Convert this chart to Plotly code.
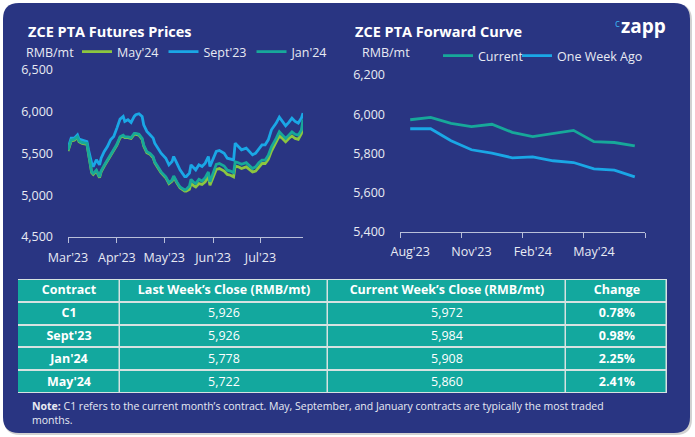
import plotly.graph_objects as go

W, H = 695, 437

# ---------------- data: left chart (ZCE PTA futures prices) ----------------
dates = ["2023-03-01","2023-03-03","2023-03-05","2023-03-07","2023-03-08","2023-03-10","2023-03-13","2023-03-14",
         "2023-03-16","2023-03-17","2023-03-19","2023-03-21","2023-03-22","2023-03-24","2023-03-26","2023-03-28",
         "2023-03-30","2023-04-01","2023-04-03","2023-04-05","2023-04-06","2023-04-08","2023-04-10","2023-04-12",
         "2023-04-13","2023-04-15","2023-04-17","2023-04-18","2023-04-20","2023-04-22","2023-04-24","2023-04-25",
         "2023-04-27","2023-04-29","2023-05-02","2023-05-04","2023-05-06","2023-05-07","2023-05-09","2023-05-11",
         "2023-05-14","2023-05-15","2023-05-17","2023-05-18","2023-05-20","2023-05-21","2023-05-23","2023-05-25",
         "2023-05-27","2023-05-29","2023-05-30","2023-06-01","2023-06-03","2023-06-05","2023-06-08","2023-06-10",
         "2023-06-12","2023-06-14","2023-06-15","2023-06-17","2023-06-19","2023-06-22","2023-06-24","2023-06-26",
         "2023-06-28","2023-06-30","2023-07-02","2023-07-04","2023-07-06","2023-07-08","2023-07-11","2023-07-13",
         "2023-07-15","2023-07-17","2023-07-19","2023-07-21","2023-07-23","2023-07-25","2023-07-27","2023-07-28"]

sept23 = [5564,5684,5684,5724,5672,5664,5644,5544,5384,5344,5424,5364,5444,5524,5584,5664,5704,
          5804,5912,5944,5884,5904,5872,5944,5964,5976,5944,5844,5764,5724,5684,5624,5564,5504,
          5444,5364,5404,5464,5384,5304,5224,5224,5264,5364,5324,5304,5364,5344,5384,5464,5344,
          5424,5524,5536,5504,5444,5432,5424,5624,5584,5544,5564,5524,5484,5504,5552,
          5604,5604,5664,5784,5864,5936,5884,5832,5872,5924,5884,5864,5924,5984]

jan24 = [5540,5660,5670,5700,5650,5630,5620,5500,5280,5260,5300,5220,5290,5360,5420,5480,5540,
         5610,5700,5720,5700,5700,5690,5740,5740,5730,5680,5600,5520,5500,5460,5400,5340,5280,
         5220,5150,5180,5230,5160,5100,5064,5070,5110,5190,5150,5140,5190,5170,5210,5280,5160,
         5260,5370,5380,5350,5300,5290,5270,5400,5390,5370,5390,5360,5320,5340,5390,
         5420,5420,5480,5580,5680,5760,5720,5680,5720,5760,5730,5720,5780,5908]

may24 = [5530,5650,5660,5690,5640,5620,5610,5490,5270,5250,5290,5210,5280,5350,5410,5470,5530,
         5600,5690,5710,5690,5690,5680,5730,5730,5720,5670,5590,5510,5490,5450,5390,5330,5270,
         5210,5140,5170,5220,5150,5090,5050,5050,5070,5140,5110,5100,5140,5130,5160,5230,5120,
         5210,5310,5320,5290,5250,5240,5220,5350,5340,5320,5340,5310,5280,5290,5340,
         5380,5380,5430,5530,5630,5710,5680,5640,5680,5710,5680,5670,5740,5860]

left_yticks = [4500, 5000, 5500, 6000, 6500]

# ---------------- data: right chart (forward curve) ----------------
months = ["Aug'23","Sep'23","Oct'23","Nov'23","Dec'23","Jan'24","Feb'24","Mar'24","Apr'24","May'24","Jun'24","Jul'24"]
current = [5972,5984,5954,5937,5949,5908,5886,5903,5918,5860,5856,5839]
week_ago = [5926,5926,5865,5819,5802,5778,5783,5763,5754,5722,5715,5681]
right_yticks = [5400, 5600, 5800, 6000, 6200]

# ---------------- data: table ----------------
table_header = ["Contract", "Last Week’s Close (RMB/mt)", "Current Week’s Close (RMB/mt)", "Change"]
contracts = ["C1", "Sept'23", "Jan'24", "May'24"]
last_close = ["5,926", "5,926", "5,778", "5,722"]
curr_close = ["5,972", "5,984", "5,908", "5,860"]
change = ["0.78%", "0.98%", "2.25%", "2.41%"]

# ---------------- styling ----------------
NAVY = "#293582"
TEAL_T = "#13a89e"
BLUE = "#1aa7e6"
TEAL = "#17a89a"
GREEN = "#8cc63f"
TXT = "#e8eaf3"
AX = "#b9bfd9"
FONT = "Open Sans"
COL_WIDTHS = [102, 208, 238, 101]
LW = 2.8

fig = go.Figure()

fig.add_trace(go.Scatter(x=dates, y=may24, name="May'24", mode="lines",
                         line=dict(color=GREEN, width=LW), xaxis="x", yaxis="y", legend="legend"))
fig.add_trace(go.Scatter(x=dates, y=sept23, name="Sept'23", mode="lines",
                         line=dict(color=BLUE, width=LW), xaxis="x", yaxis="y", legend="legend"))
fig.add_trace(go.Scatter(x=dates, y=jan24, name="Jan'24", mode="lines",
                         line=dict(color=TEAL, width=LW), xaxis="x", yaxis="y", legend="legend"))

xi = list(range(len(months)))
fig.add_trace(go.Scatter(x=xi, y=current, name="Current", mode="lines", legendwidth=34,
                         line=dict(color=TEAL, width=LW), xaxis="x2", yaxis="y2", legend="legend2"))
fig.add_trace(go.Scatter(x=xi, y=week_ago, name="One Week Ago", mode="lines", legendwidth=90,
                         line=dict(color=BLUE, width=LW), xaxis="x2", yaxis="y2", legend="legend2"))

# ---- table drawn as a heatmap grid (gaps show the light separators beneath) ----
edges = [0]
for w in COL_WIDTHS:
    edges.append(edges[-1] + w)
rows = ["h"] + contracts
cols = [
    ["<b>" + table_header[0] + "</b>"] + ["<b>" + c + "</b>" for c in contracts],
    ["<b>" + table_header[1] + "</b>"] + last_close,
    ["<b>" + table_header[2] + "</b>"] + curr_close,
    ["<b>" + table_header[3] + "</b>"] + ["<b>" + c + "</b>" for c in change],
]
cell_text = [[cols[j][i] for j in range(len(cols))] for i in range(len(rows))]
cell_z = [[0] * len(cols) for _ in rows]
fig.add_trace(go.Heatmap(
    x=edges, y=list(range(len(rows))), z=cell_z, text=cell_text, texttemplate="%{text}",
    textfont=dict(family=FONT, size=12.5, color="white"),
    colorscale=[[0, TEAL_T], [1, TEAL_T]], showscale=False, hoverinfo="skip",
    xgap=1.5, ygap=2, xaxis="x3", yaxis="y3",
))


def px_x(p):
    return p / W


def px_y(p):
    return 1 - p / H


def rrect(x0, y0, x1, y1, r):
    X = lambda v: px_x(v)
    Y = lambda v: px_y(v)
    rx, ry = r / W, r / H
    return (f"M {X(x0)+rx} {Y(y0)} L {X(x1)-rx} {Y(y0)} Q {X(x1)} {Y(y0)} {X(x1)} {Y(y0)-ry} "
            f"L {X(x1)} {Y(y1)+ry} Q {X(x1)} {Y(y1)} {X(x1)-rx} {Y(y1)} "
            f"L {X(x0)+rx} {Y(y1)} Q {X(x0)} {Y(y1)} {X(x0)} {Y(y1)+ry} "
            f"L {X(x0)} {Y(y0)-ry} Q {X(x0)} {Y(y0)} {X(x0)+rx} {Y(y0)} Z")


shapes = [
    dict(type="path", xref="paper", yref="paper", path=rrect(4, 4, 692, 435, 16),
         fillcolor="rgba(0,0,0,0.18)", line=dict(width=0), layer="below"),
    dict(type="path", xref="paper", yref="paper", path=rrect(3, 3, 690, 433, 16),
         fillcolor=NAVY, line=dict(width=0), layer="below"),
    # light backing under the table grid (shows through the cell gaps)
    dict(type="rect", xref="x3 domain", yref="y3 domain", x0=0, x1=1, y0=0, y1=1,
         fillcolor="#d6e2e1", line=dict(width=0), layer="below"),
]

annotations = [
    dict(text="<b>ZCE PTA Futures Prices</b>", x=px_x(26), y=px_y(32), xref="paper", yref="paper",
         xanchor="left", yanchor="middle", showarrow=False, font=dict(family=FONT, size=14.5, color="white")),
    dict(text="<b>ZCE PTA Forward Curve</b>", x=px_x(353), y=px_y(32), xref="paper", yref="paper",
         xanchor="left", yanchor="middle", showarrow=False, font=dict(family=FONT, size=14.5, color="white")),
    dict(text="RMB/mt", x=px_x(24), y=px_y(52), xref="paper", yref="paper",
         xanchor="left", yanchor="middle", showarrow=False, font=dict(family=FONT, size=12.5, color=TXT)),
    dict(text="RMB/mt", x=px_x(360), y=px_y(52), xref="paper", yref="paper",
         xanchor="left", yanchor="middle", showarrow=False, font=dict(family=FONT, size=12.5, color=TXT)),
    dict(text="<b>zapp</b>", x=px_x(619), y=px_y(26), xref="paper", yref="paper",
         xanchor="left", yanchor="middle", showarrow=False, font=dict(family=FONT, size=19, color="white")),
    dict(text="c", x=px_x(613), y=px_y(23), xref="paper", yref="paper",
         xanchor="left", yanchor="middle", showarrow=False, font=dict(family=FONT, size=10, color="#3ab4ef")),
    dict(text="<b>Note:</b> C1 refers to the current month’s contract. May, September, and January contracts are typically the most traded<br>months.",
         x=px_x(30), y=px_y(397), xref="paper", yref="paper", xanchor="left", yanchor="top", align="left",
         showarrow=False, font=dict(family=FONT, size=10.5, color=TXT)),
]

fig.update_layout(
    width=W, height=H, margin=dict(l=0, r=0, t=0, b=0, autoexpand=False),
    paper_bgcolor="white", plot_bgcolor="rgba(0,0,0,0)",
    font=dict(family=FONT, color=TXT),
    shapes=shapes, annotations=annotations,
    xaxis=dict(domain=[68 / W, 303 / W], anchor="y", type="date",
               range=["2023-03-01", "2023-07-28"], tick0="2023-03-01", dtick="M1", tickformat="%b'%y",
               showgrid=False, zeroline=False, showline=True, linecolor=AX, linewidth=1,
               ticks="outside", ticklen=5, tickcolor=AX, ticklabelstandoff=4,
               tickfont=dict(family=FONT, size=12.5, color=TXT)),
    yaxis=dict(domain=[1 - 237 / H, 1 - 70 / H], anchor="x", range=[4500, 6500],
               tickvals=left_yticks, tickformat=",", showgrid=False, zeroline=False, showline=False,
               ticks="", ticklabelstandoff=14, tickfont=dict(family=FONT, size=12.5, color=TXT)),
    xaxis2=dict(domain=[400 / W, 645 / W], anchor="y2", range=[-0.5, len(months) - 0.5],
                tickvals=xi[::3], ticktext=months[::3],
                showgrid=False, zeroline=False, showline=True, linecolor=AX, linewidth=1,
                ticks="", ticklabelstandoff=8,
                minor=dict(tickvals=[-0.5, 2.5, 5.5, 8.5, 11.5], ticks="outside", ticklen=5, tickcolor=AX,
                           showgrid=False),
                tickfont=dict(family=FONT, size=12.5, color=TXT)),
    yaxis2=dict(domain=[1 - 232 / H, 1 - 75 / H], anchor="x2", range=[5400, 6200],
                tickvals=right_yticks, tickformat=",", showgrid=False, zeroline=False, showline=False,
                ticks="", ticklabelstandoff=14, tickfont=dict(family=FONT, size=12.5, color=TXT)),
    xaxis3=dict(domain=[18 / W, 667 / W], anchor="y3", range=[edges[0], edges[-1]],
                visible=False, fixedrange=True),
    yaxis3=dict(domain=[1 - 393 / H, 1 - 279 / H], anchor="x3", range=[len(rows) - 0.5, -0.5],
                visible=False, fixedrange=True),
    legend=dict(orientation="h", x=px_x(77), y=px_y(52), xanchor="left", yanchor="middle",
                bgcolor="rgba(0,0,0,0)", font=dict(family=FONT, size=12.5, color=TXT),
                itemwidth=30, tracegroupgap=0),
    legend2=dict(orientation="h", x=px_x(438), y=px_y(56), xanchor="left", yanchor="middle",
                 bgcolor="rgba(0,0,0,0)", font=dict(family=FONT, size=12.5, color=TXT),
                 itemwidth=30, tracegroupgap=0),
    showlegend=True,
)

fig.write_html("out.html", config={"displayModeBar": False},
               post_script="document.body.style.margin='0';")
